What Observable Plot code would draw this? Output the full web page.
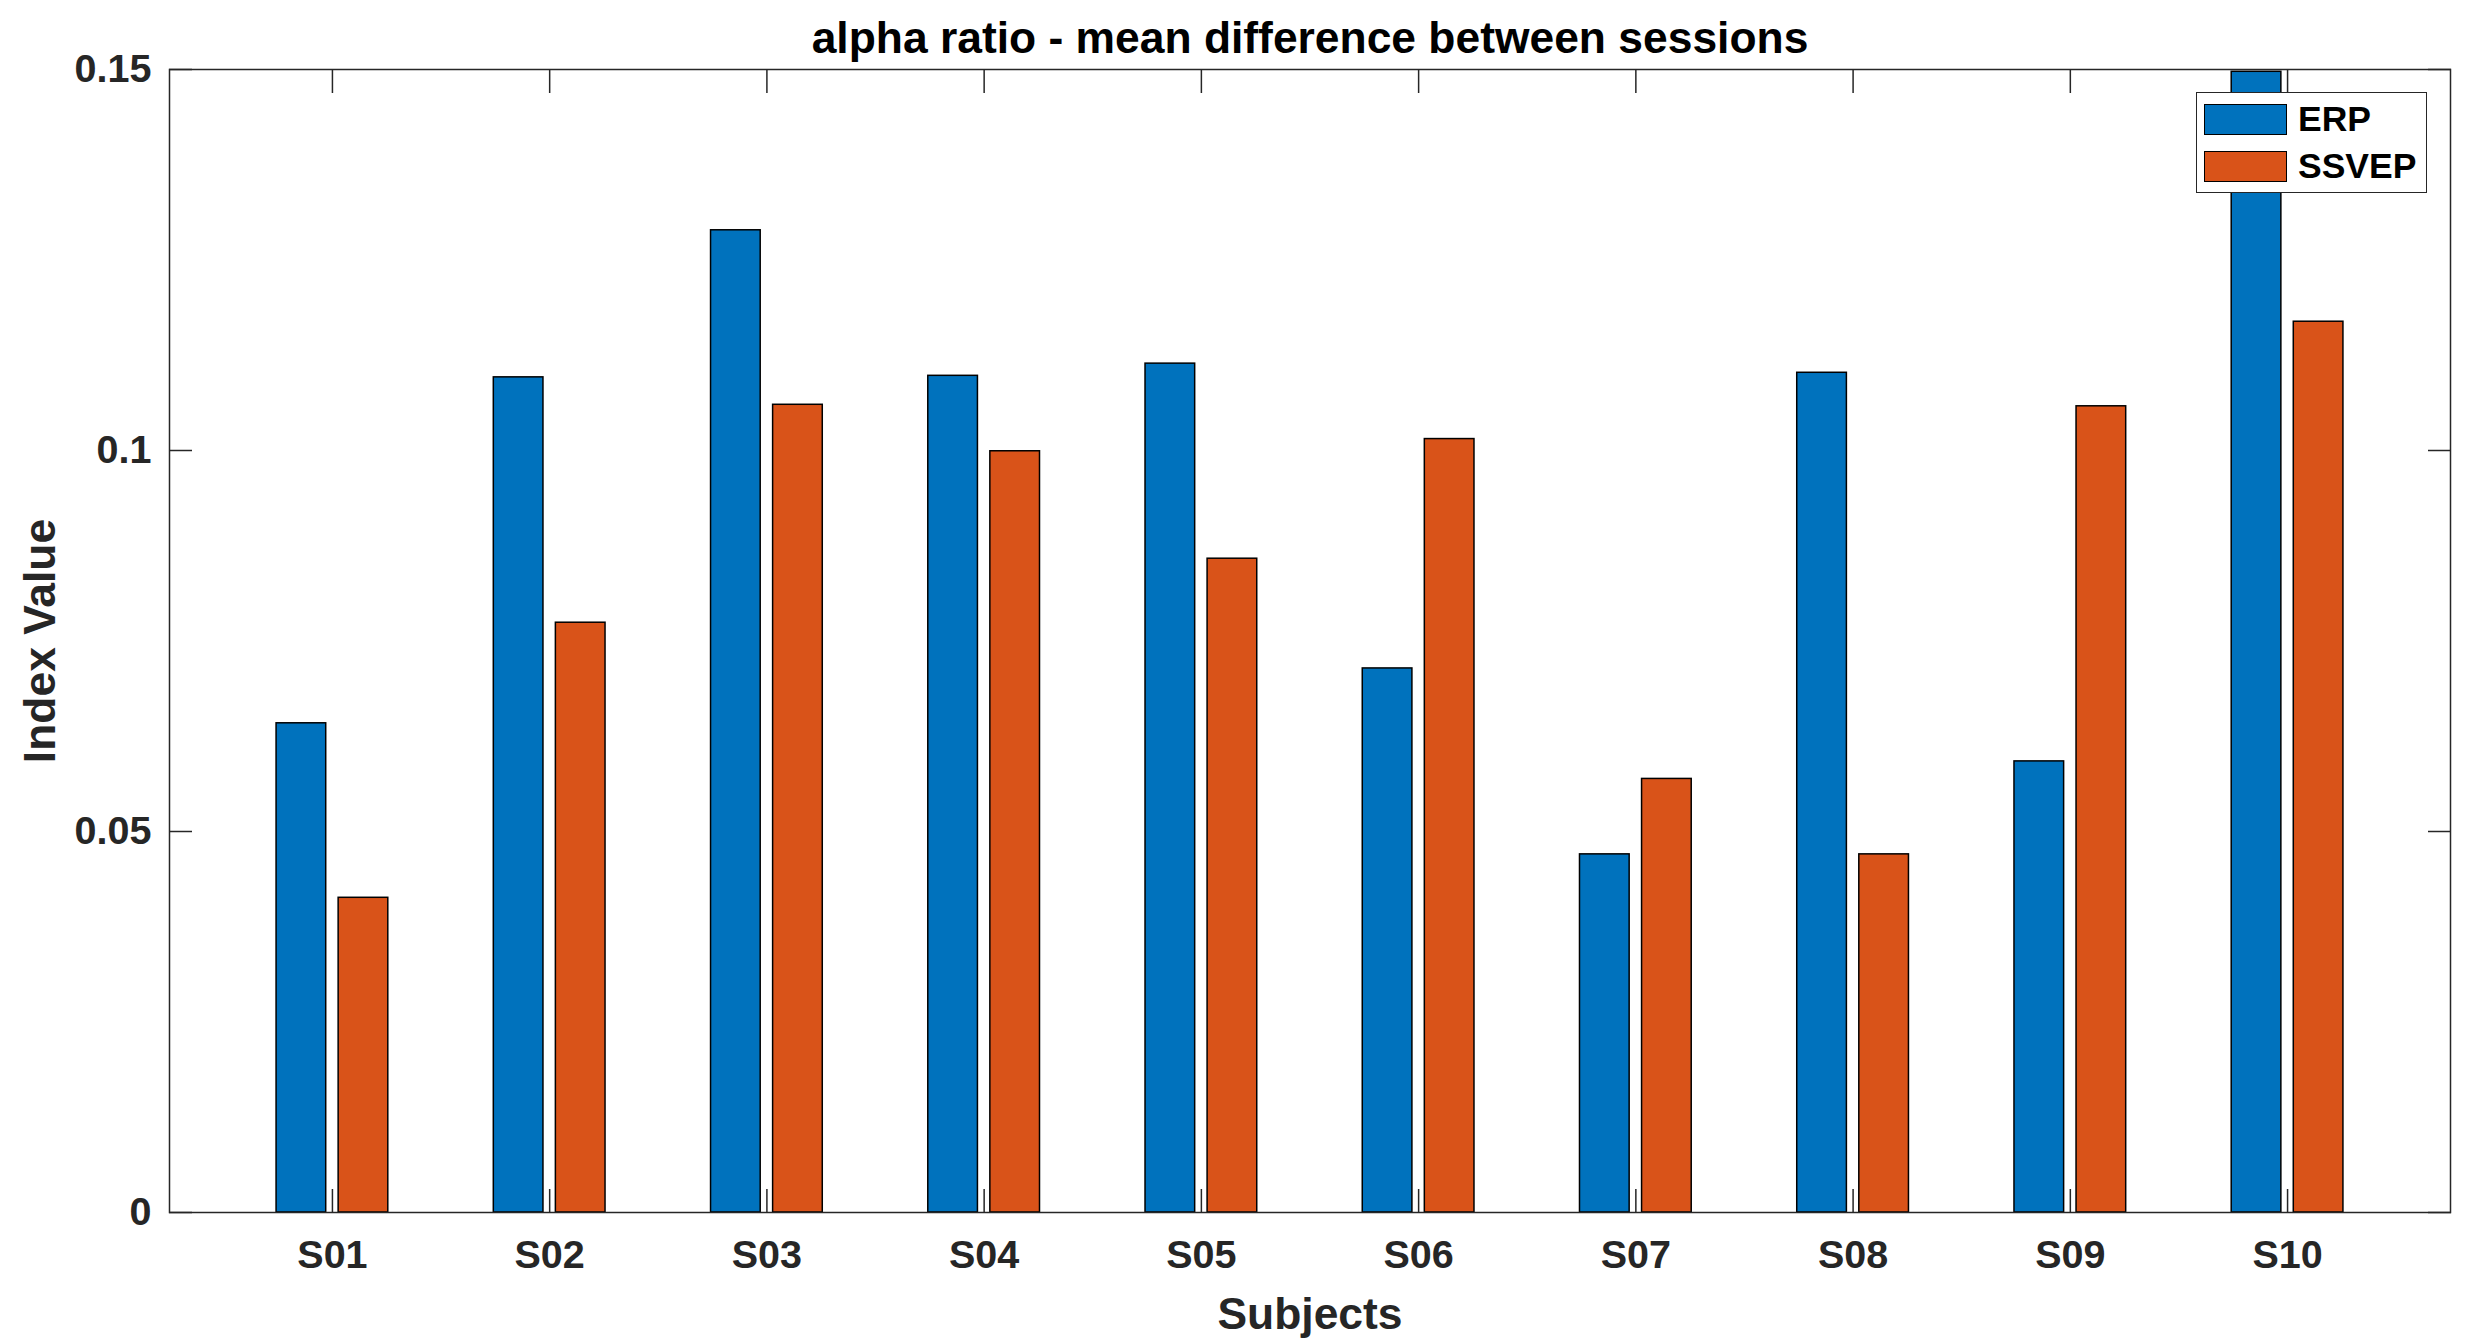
<!DOCTYPE html>
<html><head><meta charset="utf-8">
<script src="https://cdn.jsdelivr.net/npm/d3@7"></script>
<script src="https://cdn.jsdelivr.net/npm/@observablehq/plot@0.6"></script>
<style>
html,body{margin:0;padding:0;background:#fff;overflow:hidden;}
#wrap{position:relative;width:2465px;height:1342px;}
#legend{position:absolute;left:2196px;top:92px;width:231px;height:101px;box-sizing:border-box;border:1.5px solid #262626;background:#fff;font-family:"Liberation Sans",Arial,sans-serif;font-weight:bold;font-size:35.5px;color:#000;}
.item{position:absolute;left:7px;display:flex;align-items:center;height:31px;}
.sw{width:83px;height:31px;border:1.5px solid #000;box-sizing:border-box;margin-right:11px;}
</style></head>
<body><div id="wrap"></div>
<script>
const title = "alpha ratio - mean difference between sessions";
const xLabel = "Subjects";
const yLabel = "Index Value";
const subjects = ["S01","S02","S03","S04","S05","S06","S07","S08","S09","S10"];
const series = ["ERP","SSVEP"];
const colors = ["#0072BD","#D95319"];
const erp   = [0.0642,0.1096,0.1289,0.1098,0.1114,0.0714,0.0470,0.1102,0.0592,0.1497];
const ssvep = [0.0413,0.0774,0.1060,0.0999,0.0858,0.1015,0.0569,0.0470,0.1058,0.1169];
const yTicks = [0,0.05,0.1,0.15];
const xTicks = subjects.map((s,i)=>i+1);

// MATLAB grouped bar geometry (2 series)
const groupWidth = Math.min(0.8, 2/(2+1.5));
const barWidth = groupWidth/2*0.8;
const rows = [];
subjects.forEach((s,i)=>{
  [erp, ssvep].forEach((arr,j)=>{
    const c = (i+1) + (j===0?-1:1)*groupWidth/4;
    rows.push({subject:s, series:series[j], value:arr[i], x1:c-barWidth/2, x2:c+barWidth/2});
  });
});

const plot = Plot.plot({
  width:2465, height:1342,
  marginLeft:169, marginRight:15, marginTop:69, marginBottom:130,
  x:{domain:[0.25,10.75]},
  y:{domain:[0,0.15]},
  color:{domain:series, range:colors},
  style:{fontFamily:"'Liberation Sans', Arial, sans-serif", fontSize:"39.5px", fontWeight:"bold", color:"#262626", background:"#fff"},
  marks:[
    Plot.rectY(rows,{x1:"x1", x2:"x2", y1:0, y2:"value", fill:"series", stroke:"#000", strokeWidth:1.5}),
    Plot.frame({stroke:"#262626", strokeWidth:1.5}),
    Plot.axisY(yTicks,{anchor:"left", tickSize:-23, tickPadding:41, tickFormat:d=>String(d), label:null, strokeWidth:1.5}),
    Plot.axisY(yTicks,{anchor:"right", tickSize:-23, tickFormat:()=>"", label:null, strokeWidth:1.5}),
    Plot.axisX(xTicks,{anchor:"bottom", tickSize:-23, tickPadding:50, tickFormat:i=>subjects[i-1], label:null, strokeWidth:1.5}),
    Plot.axisX(xTicks,{anchor:"top", tickSize:-23, tickFormat:()=>"", label:null, strokeWidth:1.5}),
    Plot.text([title],{text:d=>d, frameAnchor:"top", dy:-17, lineAnchor:"bottom", fontSize:44.4, fill:"#000"}),
    Plot.text([xLabel],{text:d=>d, frameAnchor:"bottom", dy:116, lineAnchor:"bottom", fontSize:44.4, fill:"#262626"}),
    Plot.text([yLabel],{text:d=>d, frameAnchor:"left", dx:-129, rotate:-90, textAnchor:"middle", lineAnchor:"middle", fontSize:44.4, fill:"#262626"})
  ]
});
const wrap = document.getElementById("wrap");
wrap.appendChild(plot);

const legend = document.createElement("div");
legend.id = "legend";
series.forEach((s,j)=>{
  const it = document.createElement("div");
  it.className = "item";
  it.style.top = (j===0?11:58)+"px";
  const sw = document.createElement("div");
  sw.className = "sw";
  sw.style.background = colors[j];
  const tx = document.createElement("span");
  tx.textContent = s;
  it.appendChild(sw); it.appendChild(tx);
  legend.appendChild(it);
});
wrap.appendChild(legend);
</script>
</body></html>
